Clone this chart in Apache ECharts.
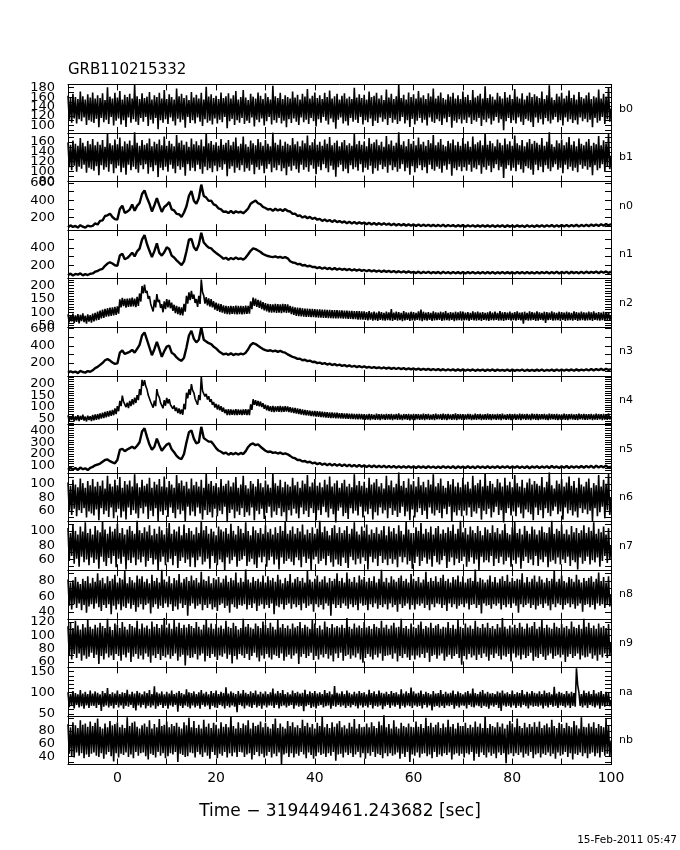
<!DOCTYPE html>
<html><head><meta charset="utf-8">
<script src="https://cdn.jsdelivr.net/npm/echarts@6.0.0/dist/echarts.min.js"></script>
<style>html,body{margin:0;padding:0;background:#fff}#c{width:680px;height:850px}</style>
</head><body><div id="c"></div>
<script>
// Light curves starting at t = -10 s; bin width per detector in binStep
const T_START = -10;
const detectors = ['b0','b1','n0','n1','n2','n3','n4','n5','n6','n7','n8','n9','na','nb'];
const binStep = [0.25,0.25,0.5,0.5,0.25,0.5,0.25,0.5,0.25,0.25,0.25,0.25,0.25,0.25];
const titleText = 'GRB110215332';
const xTitle = 'Time \u2212 319449461.243682 [sec]';
const footer = '15-Feb-2011 05:47';
const xLabels = [0,20,40,60,80,100];

const b0 = [
163,112,158,106,167,115,160,104,156,113,172,109,162,117,155,101,166,111,159,108,
170,105,157,114,164,96,158,116,168,107,154,112,181,103,161,118,157,100,169,110,
159,115,173,102,155,111,165,97,160,117,167,106,157,113,186,108,162,101,156,116,
168,108,158,118,161,99,171,112,155,104,164,116,160,92,169,111,157,106,175,113,
156,103,166,117,160,109,155,100,178,114,162,107,167,112,158,95,164,118,154,105,
171,111,159,104,165,117,157,108,169,99,155,113,182,106,161,110,166,102,158,115,
163,104,156,112,170,107,158,118,162,94,168,109,157,114,164,101,173,111,155,106,
160,116,175,103,159,110,154,105,167,117,161,98,157,112,170,107,163,115,156,100,
168,109,160,118,155,102,184,111,162,106,158,116,169,104,156,110,164,96,160,113,
157,105,172,115,159,108,165,101,155,117,167,107,161,112,177,103,157,116,163,109,
170,98,158,113,164,106,156,118,169,110,160,102,174,115,157,107,162,93,167,112,
155,117,163,104,168,109,157,100,161,116,156,108,180,112,159,105,166,118,158,102,
165,111,155,107,172,115,160,99,163,110,169,105,157,117,164,108,154,113,176,101,
159,116,167,106,156,112,162,103,187,109,158,118,165,104,155,111,170,97,160,114,
166,102,157,110,173,116,159,106,164,112,156,100,168,117,161,108,178,105,157,113,
163,109,170,101,158,115,155,107,166,118,161,95,169,110,157,106,164,113,156,104,
172,112,160,105,165,117,154,103,175,111,159,108,163,116,167,99,157,112,183,107,
158,115,166,102,161,110,155,118,169,106,162,113,157,90,171,109,159,116,165,105,
156,111,177,104,161,117,157,108,168,101,155,114,163,110,170,107,160,97,166,117,
162,106,158,113,172,102,156,116,164,109,185,104,159,112,154,118,167,107,161,111,
169,100,157,117,163,108,174,113,158,105,165,111,155,102,171,117,160,109,157,114,
164,107,170,112,156,96,162,116,159,106,176,110,157,118,167,103,161,113,181,108,
136];
const b1 = [
159,109,154,103,163,112,156,100,152,110,168,106,158,114,151,98,162,108,155,105,
166,102,153,111,160,93,154,113,164,104,150,109,177,100,157,115,153,97,165,107,
155,112,169,99,151,108,161,94,156,114,163,103,153,110,180,105,158,98,152,113,
164,105,154,115,157,96,167,109,151,101,160,113,156,89,165,108,153,103,171,110,
152,100,162,114,156,106,151,97,174,111,158,104,163,109,154,92,160,115,150,102,
167,108,155,101,161,114,153,105,165,96,151,110,178,103,157,107,162,99,154,112,
159,101,152,109,166,104,154,115,158,91,164,106,153,111,160,98,169,108,151,103,
156,113,171,100,155,107,150,102,163,114,157,95,153,109,166,104,159,112,152,97,
164,106,156,115,151,99,179,108,158,103,154,113,165,101,152,107,160,93,156,110,
153,102,168,112,155,105,161,98,151,114,163,104,157,109,173,100,153,113,159,106,
166,95,154,110,160,103,152,115,165,107,156,99,170,112,153,104,158,90,163,109,
151,114,159,101,164,106,153,97,157,113,152,105,176,109,155,102,162,115,154,99,
161,108,151,104,168,112,156,96,159,107,165,102,153,114,160,105,150,110,172,98,
155,113,163,103,152,109,158,100,182,106,154,115,161,101,151,108,166,94,156,111,
162,99,153,107,169,113,155,103,160,109,152,97,164,114,157,105,174,102,153,110,
159,106,166,98,154,112,151,104,162,115,157,92,165,107,153,103,160,110,152,101,
168,109,156,102,161,114,150,100,171,108,155,105,159,113,163,96,153,109,178,104,
154,112,162,99,157,107,151,115,165,103,158,110,153,87,167,106,155,113,161,102,
152,108,173,101,157,114,153,105,164,98,151,111,159,107,166,104,156,94,162,114,
158,103,154,110,168,99,152,113,160,106,181,101,155,109,150,115,163,104,157,108,
165,97,153,114,159,105,170,110,154,102,161,108,151,99,167,114,156,106,153,111,
160,104,166,109,152,93,158,113,155,103,172,107,153,115,163,100,157,110,176,105,
132];
const n0 = [
88,110,92,104,85,112,95,83,108,99,
105,132,120,162,168,218,226,245,206,182,
178,298,338,255,268,292,350,278,335,368,
472,514,428,360,270,342,425,340,265,322,
345,378,295,282,242,238,208,258,330,452,
505,395,358,425,580,448,430,392,395,352,
340,305,295,265,270,252,278,250,272,258,
268,250,275,305,360,380,395,365,352,322,
310,292,300,278,302,282,295,276,298,275,
270,242,245,218,225,200,215,192,208,185,
198,175,185,162,178,158,172,150,168,148,
160,142,155,135,152,132,148,128,145,130,
142,122,140,120,138,118,136,116,134,117,
130,112,128,110,126,108,124,107,122,106,
121,104,120,102,118,103,117,101,116,100,
115,99,117,97,114,100,113,96,112,98,
113,95,112,97,111,94,110,96,112,95,
110,94,112,93,109,96,111,92,110,95,
109,93,110,95,108,92,111,94,109,93,
110,96,112,94,111,97,113,95,112,96,
113,98,115,97,114,99,116,98,115,100,
117,101,119,104,121,103,124,106,126,108,
125];
const n1 = [
90,108,86,104,96,110,88,102,92,106,
110,130,137,154,162,196,222,236,222,202,
196,312,332,270,284,312,345,303,360,390,
492,543,443,366,295,362,450,343,312,349,
405,386,312,290,258,231,205,246,360,492,
502,406,369,438,570,460,428,401,393,364,
342,321,300,276,287,265,284,270,290,273,
281,265,290,328,366,393,385,369,353,330,
317,307,300,295,303,290,298,285,294,281,
248,233,229,214,218,200,205,189,197,182,
184,169,180,163,176,159,172,155,170,153,
166,151,162,147,160,143,156,141,154,139,
149,135,147,133,145,131,143,128,141,127,
139,124,137,122,135,120,134,119,133,118,
128,114,130,112,127,115,129,111,126,113,
127,110,128,112,125,109,127,111,124,110,
126,108,125,111,127,109,124,110,126,108,
125,110,127,108,124,111,126,109,125,110,
124,109,126,111,125,108,127,110,124,109,
126,110,125,112,127,109,126,111,128,110,
127,112,129,110,128,113,126,111,129,112,
130,114,128,116,131,113,132,117,133,115,
130];
const n2 = [
92,62,89,66,95,60,88,64,93,59,90,67,96,63,87,58,92,65,89,61,
95,66,98,70,102,72,106,77,110,79,113,84,115,85,117,87,118,88,120,90,
122,95,148,118,154,123,150,117,151,120,152,121,155,122,151,119,157,124,170,140,
198,170,203,172,180,150,160,131,134,103,146,118,168,138,146,116,130,100,141,112,
149,118,146,115,136,105,128,97,124,93,120,89,118,88,131,102,161,132,174,145,
180,150,166,135,149,120,161,131,222,175,162,132,156,126,152,121,149,118,141,110,
136,105,132,101,130,99,126,95,124,93,123,92,124,94,123,93,125,92,124,93,
124,92,123,93,125,94,124,95,141,112,155,124,151,120,146,116,143,112,138,107,
134,103,131,100,130,99,129,100,131,98,130,99,129,97,131,100,130,98,129,99,
124,93,121,90,118,87,117,86,116,85,115,84,114,83,114,83,113,82,113,82,
112,81,111,80,111,80,110,79,110,79,109,78,109,78,108,77,108,77,108,77,
107,77,107,76,106,76,106,75,105,75,105,74,104,74,104,73,104,73,103,73,
103,72,101,70,104,73,100,69,102,71,99,68,103,72,101,70,98,69,102,71,
100,70,112,68,99,72,102,69,101,71,98,67,104,70,100,72,99,68,102,70,
101,69,98,72,103,70,110,67,102,71,99,69,101,72,98,68,103,70,100,71,
99,72,102,68,100,70,104,71,98,69,101,72,99,67,102,70,100,71,103,69,
102,70,99,71,101,68,98,72,103,70,100,69,102,71,99,68,101,72,98,70,
100,68,103,71,99,70,102,72,98,69,104,70,100,68,101,71,99,72,102,69,
98,71,101,69,103,72,99,70,100,58,102,71,98,69,103,70,101,72,99,68,
103,69,100,72,98,70,102,60,101,71,99,72,103,69,100,70,98,71,102,68,
101,72,99,68,102,70,100,71,98,69,103,72,101,68,99,70,102,71,100,69,
99,70,102,71,100,68,103,72,98,70,101,69,99,71,102,68,100,72,101,70,
86];
const n3 = [
86,104,90,100,82,108,95,88,106,98,
115,140,155,178,200,232,245,228,205,190,
195,320,345,305,318,330,352,320,365,410,
520,555,470,380,290,360,445,360,272,338,
390,402,320,300,265,240,225,262,380,520,
575,480,440,470,612,470,450,430,420,390,
370,340,318,300,310,295,312,292,305,296,
308,300,320,360,410,432,420,400,380,362,
350,340,348,335,344,330,342,326,320,300,
285,270,262,248,250,232,238,222,228,212,
215,198,205,190,198,182,192,176,186,172,
180,166,176,160,172,156,168,152,164,150,
160,146,156,142,152,140,150,136,148,134,
146,132,144,130,142,128,140,126,138,125,
136,122,134,120,133,119,131,117,130,116,
129,114,128,112,127,113,126,111,125,112,
126,110,124,112,125,109,123,111,124,108,
122,110,125,108,123,111,121,109,124,107,
123,108,121,110,124,107,122,109,120,108,
122,109,124,107,121,110,123,108,125,109,
124,110,122,112,125,109,126,111,124,113,
127,112,129,114,128,116,131,115,133,118,
130];
const n4 = [
64,41,61,44,66,39,60,43,65,40,62,45,67,42,59,38,63,44,61,40,
66,43,68,45,70,47,73,50,76,53,79,56,82,59,85,62,88,65,94,70,
104,82,127,104,150,124,124,100,119,96,127,104,134,111,141,118,152,130,178,152,
218,192,217,190,177,152,148,122,122,98,128,104,178,152,142,118,119,95,130,106,
140,116,134,110,117,93,107,83,98,74,94,70,90,67,114,90,162,138,177,153,
199,172,162,136,134,110,152,130,232,170,170,146,157,133,147,123,134,110,122,98,
114,90,110,86,104,80,98,74,90,66,91,66,90,67,89,66,91,65,90,67,
89,66,90,67,91,66,90,65,112,88,134,110,130,106,127,103,124,100,117,93,
110,86,107,83,104,80,105,79,103,81,104,80,105,79,103,80,104,81,103,79,
100,76,98,74,96,72,94,70,92,68,90,66,88,64,87,63,85,61,84,60,
83,59,82,58,81,57,80,56,79,55,78,54,77,53,77,53,76,52,76,52,
74,50,74,50,73,49,73,49,72,48,72,48,71,47,71,47,71,47,70,46,
70,45,68,46,71,44,69,47,67,45,72,46,69,44,70,47,68,45,71,46,
69,46,71,44,68,47,70,45,73,46,67,44,70,47,69,45,71,43,68,46,
71,44,69,47,70,45,68,46,72,44,69,47,71,45,67,46,70,44,72,47,
68,47,70,45,72,46,69,44,71,47,68,45,70,46,73,44,69,47,70,45,
70,45,68,46,71,47,70,44,67,46,72,45,69,47,71,44,68,46,70,45,
72,46,69,44,70,47,68,45,71,46,70,44,72,47,67,45,69,46,71,44,
69,47,71,45,68,46,72,44,70,47,69,45,71,46,68,44,72,47,70,45,
71,44,70,46,69,47,71,45,68,44,72,46,70,47,69,45,71,44,68,46,
68,46,72,45,70,44,69,47,71,46,68,45,70,44,72,47,69,46,71,45,
70,45,69,47,71,44,68,46,72,45,70,47,69,44,71,46,70,45,73,47,
58];
const n5 = [
68,84,70,82,66,86,72,80,65,84,
92,105,112,120,135,150,155,140,130,122,
150,235,245,225,238,250,262,248,270,300,
390,418,345,280,236,262,330,275,228,255,
280,292,240,215,185,165,158,200,300,385,
400,330,290,300,430,335,320,305,305,280,
250,230,220,205,212,195,208,198,210,196,
210,200,225,260,282,290,275,282,262,245,
228,218,222,210,215,205,212,200,206,198,
185,170,165,150,150,138,142,130,135,122,
128,115,124,110,120,106,118,104,116,102,
114,100,112,98,110,96,108,94,107,93,
105,91,104,90,103,89,102,88,101,87,
100,86,99,85,98,86,97,84,98,85,
97,83,98,84,96,82,97,85,95,83,
96,82,98,84,95,83,97,81,96,84,
95,82,97,83,96,81,98,84,95,82,
97,83,95,84,98,82,96,85,97,83,
96,84,98,82,95,83,97,81,96,84,
98,83,96,85,97,82,99,84,96,83,
97,85,99,83,98,86,97,84,100,85,
99,86,101,84,102,87,100,88,103,86,
95];
const n6 = [
102,60,97,54,106,63,99,52,95,61,108,57,101,64,94,50,104,59,98,56,
107,53,96,62,103,46,97,64,105,55,93,60,112,51,100,65,96,49,106,58,
98,63,110,50,94,59,104,47,99,65,105,54,96,61,114,56,101,49,95,64,
106,56,97,66,100,48,109,60,94,52,103,64,99,45,107,59,96,54,111,61,
95,51,104,65,99,57,94,49,113,62,101,55,105,60,97,44,103,66,93,53,
108,59,98,52,103,65,96,56,106,47,94,61,115,54,100,58,104,50,97,63,
101,52,95,60,107,55,97,66,100,43,105,57,96,62,102,49,110,59,94,54,
99,64,112,51,98,58,93,53,104,65,100,46,96,60,107,55,101,63,95,48,
105,57,99,66,94,50,116,59,101,54,97,64,106,52,95,58,103,45,99,61,
96,53,109,63,98,56,103,49,94,65,105,55,100,60,113,51,96,64,102,57,
107,46,97,61,102,54,95,66,106,58,99,50,111,63,96,55,101,42,105,60,
94,65,101,52,106,57,96,48,100,64,95,56,114,60,98,53,104,66,97,50,
103,59,94,55,109,63,99,47,102,58,107,53,96,65,101,56,93,61,112,49,
98,64,105,54,95,60,100,51,117,57,97,66,104,52,94,59,108,46,99,62,
104,50,96,58,110,64,98,54,103,60,95,48,106,65,99,56,114,53,96,61,
101,57,108,49,97,63,94,55,104,66,99,44,107,58,96,53,102,61,95,52,
109,60,99,53,103,65,93,51,112,59,98,56,101,64,106,47,96,60,116,55,
97,63,104,50,100,58,95,66,107,54,102,61,96,41,109,57,98,64,103,53,
95,59,113,52,101,65,96,56,106,49,94,62,102,58,108,55,99,46,104,65,
100,54,97,61,110,49,95,64,103,57,117,52,98,60,93,66,105,55,100,59,
107,47,96,65,102,56,111,61,97,53,104,59,94,50,109,64,99,57,96,62,
103,55,108,60,94,45,101,64,98,52,113,58,96,66,106,49,100,61,115,54,
79];
const n7 = [
104,58,97,65,109,54,100,61,95,50,106,64,99,56,112,60,97,52,103,63,
95,55,107,60,101,47,98,64,114,57,102,51,96,62,106,54,99,65,103,49,
110,61,97,54,104,64,95,46,102,59,107,55,100,63,96,52,117,60,101,56,
97,64,105,50,99,58,108,62,94,53,103,60,96,44,106,57,101,64,95,52,
104,56,111,61,96,52,102,65,99,48,106,58,94,63,109,55,97,60,104,50,
100,63,95,49,105,59,97,64,115,53,101,57,107,61,96,47,103,65,99,55,
94,52,106,60,102,56,99,44,104,63,96,54,110,59,100,64,95,50,107,58,
103,60,97,65,112,51,100,57,94,61,106,53,101,48,97,63,104,56,96,64,
108,50,98,59,103,64,95,53,105,60,97,46,107,63,100,54,114,58,96,61,
101,57,106,52,96,63,104,59,99,49,109,64,95,55,102,61,97,45,105,60,
96,64,103,54,118,58,98,61,106,52,100,65,94,56,104,50,108,60,97,53,
105,51,97,63,101,55,107,48,96,64,103,59,112,53,99,61,95,54,106,63,
100,58,109,46,95,64,102,56,97,61,105,51,96,65,101,55,107,60,94,52,
106,61,99,54,104,60,96,49,108,64,100,56,95,63,113,53,102,58,97,47,
97,55,105,64,100,51,111,58,96,63,103,54,98,60,106,50,95,65,104,56,
107,53,96,59,102,65,97,48,105,57,100,63,109,52,96,61,103,55,116,58,
98,64,104,50,95,57,106,63,101,54,97,60,107,45,100,64,94,56,105,59,
102,56,97,65,108,51,98,61,104,55,96,64,101,53,110,58,97,63,95,50,
105,59,113,54,97,63,103,47,95,58,107,64,100,55,96,60,106,52,102,65,
95,51,101,60,106,56,98,64,97,49,105,57,115,59,96,54,103,63,100,53,
109,60,96,55,102,64,95,51,107,59,98,56,104,46,97,63,101,54,108,58,
97,64,105,53,100,59,112,56,96,63,103,50,98,58,106,65,95,55,104,60,
79];
const n8 = [
82,48,78,43,81,50,85,45,79,51,76,42,83,49,80,39,86,47,77,50,
84,44,79,51,90,46,81,41,84,49,77,45,86,50,80,37,83,48,88,43,
78,50,84,42,82,47,93,45,77,51,85,44,81,49,78,40,87,46,83,50,
86,43,79,49,83,51,77,38,88,46,80,50,84,44,78,48,95,45,82,51,
79,46,86,50,77,41,84,47,81,43,89,51,78,45,83,49,85,35,80,48,
87,51,81,44,84,48,78,50,92,42,82,49,80,45,86,50,77,43,84,46,
82,41,85,49,78,51,83,45,87,48,79,39,84,50,81,46,91,44,78,49,
84,48,79,50,97,43,82,49,78,45,85,51,80,41,83,48,79,50,87,44,
78,49,86,45,81,51,84,37,79,48,88,46,82,50,77,43,84,49,80,51,
89,44,78,50,83,46,85,49,80,42,84,51,78,45,93,48,82,50,79,40,
83,50,87,46,79,49,82,43,86,51,78,48,84,35,80,50,83,45,90,49,
80,45,84,51,78,48,91,44,83,50,79,46,85,49,78,42,87,51,82,48,
85,49,79,42,84,50,80,46,86,51,78,44,83,49,95,46,79,50,84,43,
78,51,86,46,82,49,79,40,84,50,87,45,80,48,83,51,78,43,89,49,
83,43,80,50,85,48,78,51,82,45,92,49,79,42,84,50,80,46,86,51,
79,50,84,45,88,49,80,41,83,51,78,46,85,50,82,44,87,48,79,50,
86,46,78,51,83,43,84,49,80,50,96,45,79,49,84,38,82,51,78,48,
82,49,87,44,79,50,85,48,78,51,83,43,86,49,80,46,88,50,79,45,
84,51,80,48,83,39,82,50,90,46,78,49,85,51,79,45,83,49,87,43,
79,48,86,50,82,45,78,51,84,48,80,42,83,50,94,46,79,51,83,49,
87,43,80,49,78,51,85,46,83,50,79,44,88,48,82,51,78,40,84,49,
80,50,84,46,86,49,79,43,83,51,91,48,80,50,85,45,78,49,86,47,
63];
const n9 = [
114,69,119,64,111,72,122,66,115,73,109,62,117,70,112,65,124,68,113,74,
110,66,116,71,112,57,119,69,114,64,111,73,125,67,113,70,108,63,118,72,
116,69,111,62,120,71,113,67,109,74,117,60,114,68,112,72,122,65,110,70,
118,64,112,73,115,68,110,59,121,70,113,66,117,72,111,63,116,69,126,67,
112,71,118,65,110,69,123,73,113,62,119,68,111,71,116,55,112,70,117,66,
114,67,111,72,120,64,113,70,109,73,116,61,124,69,112,66,118,72,110,68,
117,63,112,70,115,68,110,73,122,65,113,71,111,58,119,69,114,64,109,72,
111,70,125,66,113,72,117,63,112,69,110,74,118,67,114,61,111,70,121,65,
116,72,111,67,119,64,113,71,109,69,123,66,112,73,117,62,111,68,115,71,
110,65,118,70,112,73,114,57,120,68,111,72,116,66,113,69,110,74,124,63,
118,69,111,64,115,71,109,67,121,72,113,65,111,70,117,61,112,73,114,66,
112,74,116,62,111,69,126,71,113,65,110,70,118,67,112,73,115,64,111,59,
120,66,112,72,114,68,110,64,117,71,113,67,111,73,122,62,112,69,116,70,
110,71,115,65,119,73,112,61,113,69,125,66,111,72,114,67,110,63,118,70,
113,64,111,70,116,67,121,72,110,66,114,74,112,60,119,69,111,71,115,65,
117,70,110,73,113,62,112,68,120,71,111,65,116,69,110,72,124,66,113,56,
111,69,118,64,112,72,115,67,110,70,122,63,113,71,111,66,117,73,112,68,
119,62,111,71,114,66,110,73,117,69,112,64,127,70,113,68,110,72,115,61,
112,73,116,67,111,70,119,64,113,71,110,66,118,69,112,74,114,62,120,68,
110,66,113,72,123,68,111,63,116,70,112,73,110,65,119,69,113,71,111,67,
117,71,112,60,114,68,110,72,121,66,113,69,111,73,116,64,110,70,125,67,
113,68,119,73,111,65,115,70,110,62,118,71,112,67,114,73,111,66,117,69,
89];
const na = [
101,66,97,70,104,63,99,71,96,65,106,68,98,62,102,70,97,64,105,69,
98,69,103,64,100,71,96,57,104,67,99,70,111,65,97,69,101,63,98,71,
105,65,97,70,101,62,99,69,107,67,96,71,102,64,98,58,104,70,100,65,
96,71,103,63,99,69,106,65,97,70,115,62,101,68,98,71,103,64,96,69,
102,62,98,70,105,67,97,71,100,55,104,69,99,64,96,70,108,67,101,63,
99,70,103,65,97,69,101,62,106,71,98,67,102,70,96,61,104,69,99,65,
105,64,97,71,102,68,99,63,113,69,98,65,103,70,100,67,97,54,104,71,
98,68,106,63,100,70,97,67,103,64,99,71,105,65,96,69,102,62,98,70,
103,65,97,70,101,69,110,64,98,71,104,63,99,68,106,70,97,65,101,69,
96,71,105,62,99,70,102,67,98,69,100,56,107,68,97,71,103,64,99,67,
104,63,98,69,101,71,97,65,106,68,99,70,103,62,96,69,116,67,100,71,
98,67,103,70,97,64,105,69,100,65,96,71,102,68,98,63,104,70,99,65,
101,69,96,65,107,71,99,63,103,69,97,67,105,70,100,61,98,68,102,71,
97,64,104,70,99,67,101,71,96,62,108,69,98,65,103,70,99,68,112,64,
103,70,98,67,100,69,105,63,97,71,102,65,99,70,96,58,104,67,98,69,
99,65,106,69,97,64,102,70,98,68,100,71,105,62,97,69,103,65,99,70,
96,69,101,63,104,71,98,67,110,65,99,70,97,68,102,64,106,69,98,67,
102,62,98,70,99,67,97,71,103,64,100,57,105,70,98,67,101,69,97,65,
105,70,97,64,101,69,99,65,106,71,96,68,102,63,98,70,104,67,100,69,
98,67,103,70,97,63,105,69,99,65,101,71,96,67,114,69,98,64,102,70,
100,69,97,65,104,70,98,64,102,69,99,67,158,118,101,69,97,65,105,70,
99,64,103,71,97,68,106,65,98,70,101,62,104,69,97,67,102,70,99,68,
83];
const nb = [
91,44,86,40,94,38,89,46,85,41,97,45,90,37,92,43,87,39,95,44,
88,46,93,41,100,39,87,45,84,36,92,43,86,47,96,40,89,32,91,45,
94,38,86,44,90,42,85,46,102,39,88,43,93,37,95,47,87,41,84,45,
89,46,92,40,87,35,97,44,84,42,91,38,86,47,99,41,88,45,90,37,
95,40,86,45,91,43,88,47,93,31,87,44,84,42,94,39,89,40,101,46,
86,45,96,38,85,47,90,43,84,39,98,46,87,41,92,36,85,47,93,42,
90,37,84,44,94,41,87,47,91,38,86,45,104,40,88,46,84,39,94,47,
85,46,92,39,89,43,97,45,84,35,93,42,88,47,90,40,95,44,86,38,
93,41,87,47,84,38,91,44,100,40,85,46,92,28,87,43,84,45,96,39,
88,45,94,38,86,44,89,41,85,47,98,43,88,37,93,46,86,42,91,36,
84,40,93,46,88,42,103,44,86,39,91,45,85,41,94,47,87,33,92,43,
96,44,86,38,89,46,84,42,93,45,87,39,99,43,84,47,91,38,86,45,
87,36,92,45,86,41,94,47,88,39,85,44,95,42,89,37,106,45,86,40,
91,45,84,41,97,43,87,46,84,36,93,44,88,39,86,47,92,31,87,43,
86,41,95,46,87,38,91,44,85,45,101,40,88,43,93,37,86,47,90,39,
94,43,85,40,92,45,86,42,98,46,87,35,91,43,84,45,93,41,88,44,
88,38,93,45,85,43,90,47,86,33,95,44,87,39,92,46,85,42,104,38,
85,46,91,41,88,44,86,37,94,46,87,42,92,45,84,29,90,43,96,45,
92,40,86,45,100,42,88,46,85,38,93,44,86,41,91,47,87,37,94,43,
87,45,95,38,85,44,89,42,92,46,86,40,98,44,88,36,85,46,93,41,
91,43,85,47,93,39,88,45,86,35,96,44,89,42,84,46,102,40,87,45,
86,37,92,44,87,46,94,40,85,45,91,38,88,47,86,41,99,44,89,39,
65];

// y-axis ranges and tick labels per panel
const yMin = [84, 80, 55, 50, 44, 50, 25, 40, 44, 45, 31, 52, 45, 27];
const yMax = [187, 178, 615, 600, 225, 615, 235, 450, 116, 113, 94, 125, 160, 104];
const yTickStep = [10, 10, 100, 100, 10, 100, 10, 20, 10, 10, 10, 10, 10, 10];
const b0Labels = [100,120,140,160,180];
const b1Labels = [80,100,120,140,160];
const n0Labels = [200,400,600];
const n1Labels = [200,400];
const n2Labels = [50,100,150,200];
const n3Labels = [200,400,600];
const n4Labels = [50,100,150,200];
const n5Labels = [100,200,300,400];
const n6Labels = [60,80,100];
const n7Labels = [60,80,100];
const n8Labels = [40,60,80];
const n9Labels = [60,80,100,120];
const naLabels = [50,100,150];
const nbLabels = [40,60,80];

const seriesValues = [b0,b1,n0,n1,n2,n3,n4,n5,n6,n7,n8,n9,na,nb];
const yLabelSets = [b0Labels,b1Labels,n0Labels,n1Labels,n2Labels,n3Labels,n4Labels,n5Labels,n6Labels,n7Labels,n8Labels,n9Labels,naLabels,nbLabels];

// layout
const FONT = 'DejaVu Sans';
const TOP = 84.4, STEP = 48.58, LEFT = 68, WIDTH = 543;
const grid = [], xAxis = [], yAxis = [], series = [], graphic = [];
const axisLineStyle = {color:'#000', width:1};

detectors.forEach((name, i) => {
  const top = TOP + i * STEP;
  grid.push({left: LEFT, top: top, width: WIDTH, height: STEP, containLabel: false});
  const isLast = i === detectors.length - 1;
  const xBase = {gridIndex: i, type: 'value', min: -10, max: 100, interval: 10,
    axisLine: {show: true, onZero: false, lineStyle: axisLineStyle},
    axisTick: {show: true, inside: true, length: 6, lineStyle: axisLineStyle},
    splitLine: {show: false}, minorTick: {show: false}};
  xAxis.push(Object.assign({}, xBase, {position: 'bottom',
    axisLabel: isLast ? {show: true, customValues: xLabels, margin: 7, fontSize: 14,
      fontFamily: FONT, color: '#000', showMinLabel: true, showMaxLabel: true} : {show: false}}));
  xAxis.push(Object.assign({}, xBase, {position: 'top', axisLabel: {show: false}}));

  const ticks = [];
  for (let v = Math.ceil(yMin[i] / yTickStep[i]) * yTickStep[i]; v <= yMax[i]; v += yTickStep[i]) ticks.push(v);
  const yBase = {gridIndex: i, type: 'value', min: yMin[i], max: yMax[i], scale: true,
    axisLine: {show: true, onZero: false, lineStyle: axisLineStyle},
    axisTick: {show: true, inside: true, length: 6, customValues: ticks, lineStyle: axisLineStyle},
    axisLabel: {show: false}, splitLine: {show: false}};
  yAxis.push(Object.assign({}, yBase, {position: 'left'}));
  yAxis.push(Object.assign({}, yBase, {position: 'right'}));

  const step = binStep[i];
  series.push({type: 'line', name: name, xAxisIndex: 2 * i, yAxisIndex: 2 * i,
    data: seriesValues[i].map((v, k) => [T_START + k * step, v]),
    symbol: 'none', showSymbol: false, silent: true, animation: false, sampling: null,
    lineStyle: {color: '#000', width: step < 0.5 ? 1.6 : 2.4}});

  graphic.push({type: 'text', x: 619, y: top + STEP / 2, silent: true,
    style: {text: name, fontSize: 11, fontFamily: FONT, fill: '#000',
      align: 'left', verticalAlign: 'middle'}});
});

graphic.push({type: 'text', x: 68, y: 70, silent: true,
  style: {text: titleText, fontSize: 15, fontFamily: FONT, fill: '#000',
    align: 'left', verticalAlign: 'middle'}});
graphic.push({type: 'text', x: 340, y: 812, silent: true,
  style: {text: xTitle, fontSize: 17, fontFamily: FONT, fill: '#000',
    align: 'center', verticalAlign: 'middle'}});
graphic.push({type: 'text', x: 677, y: 840, silent: true,
  style: {text: footer, fontSize: 10.5, fontFamily: FONT, fill: '#000',
    align: 'right', verticalAlign: 'middle'}});

const chart = echarts.init(document.getElementById('c'), null, {renderer: 'canvas'});
chart.setOption({
  backgroundColor: '#fff',
  animation: false,
  grid: grid, xAxis: xAxis, yAxis: yAxis, series: series, graphic: graphic
});

// y tick labels placed through the axes' own scales (overlapping labels kept, as in the original)
const yLabelGraphics = [];
detectors.forEach((name, i) => {
  yLabelSets[i].forEach(v => {
    const py = chart.convertToPixel({yAxisIndex: 2 * i}, v);
    yLabelGraphics.push({type: 'text', x: LEFT - 13, y: py, silent: true,
      style: {text: String(v), fontSize: 13, fontFamily: FONT, fill: '#000',
        align: 'right', verticalAlign: 'middle'}});
  });
});
chart.setOption({graphic: graphic.concat(yLabelGraphics)});
</script></body></html>
